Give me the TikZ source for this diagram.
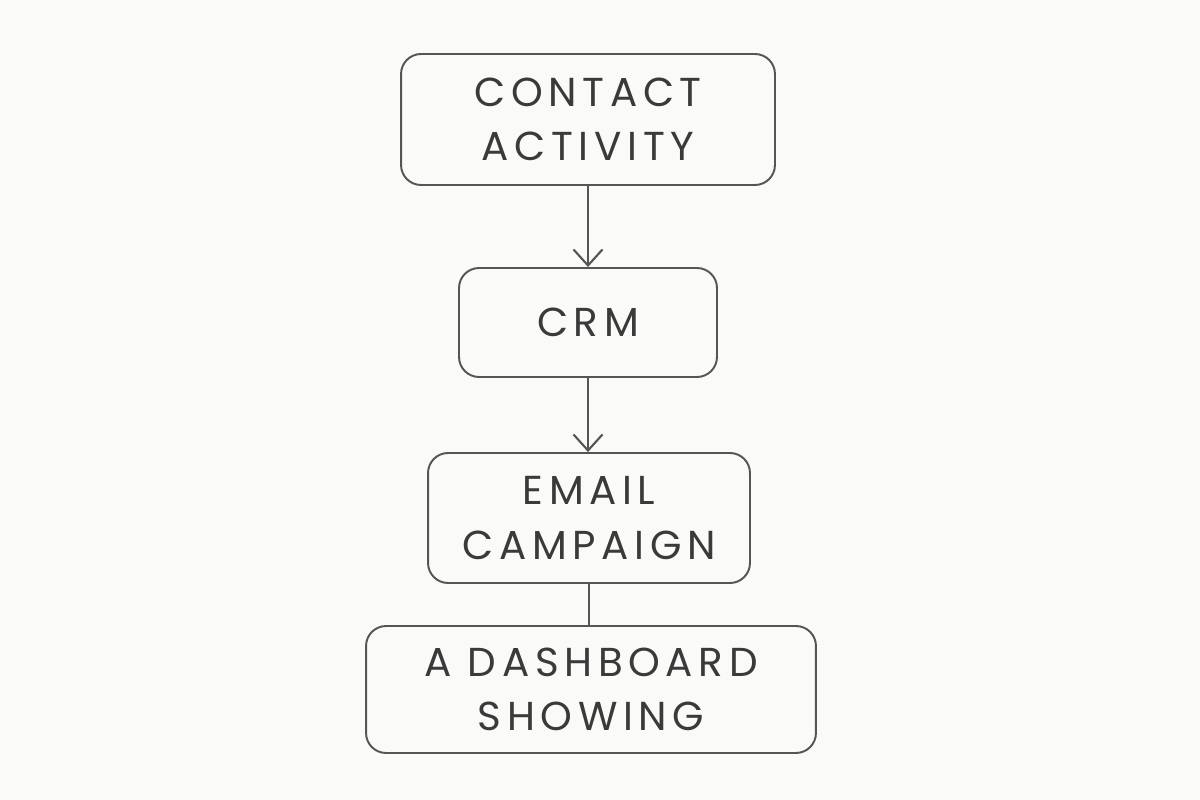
\documentclass[tikz,border=0pt]{standalone}
\usepackage{fontspec}
\newfontfamily\boxfont[LetterSpace=14]{Poppins}
\usetikzlibrary{arrows.meta}
\definecolor{bg}{HTML}{FAFAF8}
\definecolor{ink}{HTML}{555555}
\definecolor{txt}{HTML}{3A3A3A}
\tikzset{
  stepbox/.style={draw=ink, line width=1.1pt, rounded corners=0.4cm, fill=bg,
    text=txt, align=center, inner sep=0pt,
    font=\boxfont\fontsize{23}{31}\selectfont},
  conn/.style={draw=ink, line width=1.1pt},
  arr/.style={conn, -{Straight Barb[length=0.32cm, width=0.58cm, line width=1.2pt]}}
}
\begin{document}
\begin{tikzpicture}[x=0.02cm, y=-0.02cm]
\fill[bg] (0,0) rectangle (1200,800);
\useasboundingbox (0,0) rectangle (1200,800);
\node[stepbox, minimum width=7.48cm, minimum height=2.62cm] (a) at (588,119.5) {CONTACT\\ACTIVITY};
\node[stepbox, minimum width=5.16cm, minimum height=2.18cm] (b) at (588,322.5) {CRM};
\node[stepbox, minimum width=6.44cm, minimum height=2.6cm] (c) at (589,518) {EMAIL\\CAMPAIGN};
\node[stepbox, minimum width=9.0cm, minimum height=2.54cm] (d) at (591,689.5) {A DASHBOARD\\SHOWING};
\draw[arr] (a.south) -- (a.south |- b.north);
\draw[arr] (b.south) -- (b.south |- c.north);
\draw[conn] (c.south) -- (c.south |- d.north);
\end{tikzpicture}
\end{document}
